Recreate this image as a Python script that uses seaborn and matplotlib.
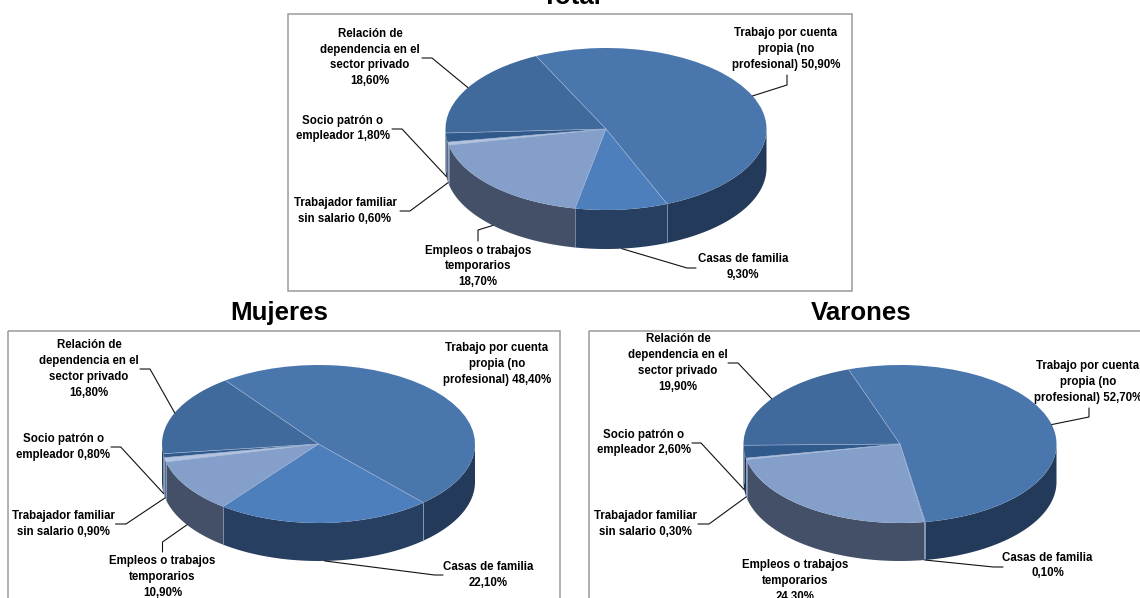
import numpy as np
import matplotlib
matplotlib.use("Agg")
import matplotlib.pyplot as plt
from matplotlib.patches import Rectangle
import seaborn as sns

# Categories in clockwise order, as they appear around each pie
categories = [
    "Trabajo por cuenta\npropia (no\nprofesional)",
    "Casas de familia\n",
    "Empleos o trabajos\ntemporarios\n",
    "Trabajador familiar\nsin salario",
    "Socio patrón o\nempleador",
    "Relación de\ndependencia en el\nsector privado\n",
]
total_values = [50.9, 9.3, 18.7, 0.6, 1.8, 18.6]
mujeres_values = [48.4, 22.1, 10.9, 0.9, 0.8, 16.8]
varones_values = [52.7, 0.1, 24.3, 0.3, 2.6, 19.9]

sns.set_theme(style="white")
plt.rcParams["font.family"] = ["Liberation Sans", "DejaVu Sans"]

top_palette = sns.color_palette(
    ["#4A76AE", "#4D7FBC", "#859FCB", "#B4C4E0", "#315A8C", "#40699C"])
side_palette = sns.color_palette(
    ["#233A5A", "#273F61", "#435067", "#5F7089", "#1D3350", "#263F60"])

W, H = 1140, 598
fig = plt.figure(figsize=(W / 100, H / 100), dpi=100, facecolor="white")

# Overlay in pixel units for frames, leaders and captions
overlay = fig.add_axes([0, 0, 1, 1], zorder=5)
overlay.set_xlim(0, W)
overlay.set_ylim(H, 0)
overlay.axis("off")
overlay.patch.set_alpha(0)

LABEL_SIZE = 8.3
LINE_COLOR = "#111111"
EDGE_COLOR = "#9DB2D2"


def draw_pie(values, start, cx, cy, rx, ry, depth, leaders, label_xy):
    """Draw one extruded pie; `start` is the clockwise angle of the first slice from 12 o'clock."""
    pad = 1.02
    d = depth / ry
    ax = fig.add_axes([(cx - rx * pad) / W,
                       1 - (cy + ry * pad + depth) / H,
                       2 * rx * pad / W,
                       (2 * ry * pad + depth) / H])
    ax.pie(values, startangle=90 - start, counterclock=False, radius=1,
           colors=top_palette,
           wedgeprops=dict(edgecolor="none", linewidth=0, zorder=3))
    ax.set_aspect("auto")
    ax.set_xlim(-pad, pad)
    ax.set_ylim(-pad - d, pad)
    ax.patch.set_alpha(0)

    shares = np.asarray(values, dtype=float)
    shares = shares / shares.sum()
    edges = start + 360 * np.concatenate([[0], np.cumsum(shares)])

    # Side wall: only the part of each slice facing the viewer
    for i, colour in enumerate(side_palette):
        for shift in (0, 360):
            a0 = np.radians(max(edges[i], 90 - shift))
            a1 = np.radians(min(edges[i + 1], 270 - shift))
            if a1 <= a0:
                continue
            t = np.linspace(a0, a1, 80)
            x, y = np.sin(t), np.cos(t)
            ax.fill(np.r_[x, x[::-1]], np.r_[y, y[::-1] - d],
                    color=colour, lw=0, zorder=1)

    # Thin light seams between slices, on the face and down the wall
    for e in edges[:-1]:
        a = np.radians(e)
        ax.plot([0, np.sin(a)], [0, np.cos(a)], color=EDGE_COLOR, lw=0.45, zorder=4)
        if np.cos(a) < 0:
            ax.plot([np.sin(a)] * 2, [np.cos(a), np.cos(a) - d],
                    color=EDGE_COLOR, lw=0.45, zorder=2)

    # Leaders start on the rim at each slice's middle angle
    mids = np.radians((edges[:-1] + edges[1:]) / 2)
    for i, name in enumerate(categories):
        sx = cx + rx * np.sin(mids[i])
        sy = cy - ry * np.cos(mids[i])
        if np.cos(mids[i]) < 0:
            sy += depth
        if leaders[i] is not None:
            (ex, ey), (fx, fy) = leaders[i]
            overlay.plot([sx, ex, fx], [sy, ey, fy], color=LINE_COLOR, lw=0.8,
                         solid_joinstyle="miter")
        value_text = f"{values[i]:.2f}".replace(".", ",") + "%"
        if name.endswith("\n"):
            caption = name + value_text
        else:
            caption = name + " " + value_text
        lx, ly = label_xy[i]
        overlay.text(lx, ly, caption, ha="center", va="center", fontsize=LABEL_SIZE,
                     fontweight="bold", color="black", linespacing=1.42,
                     clip_on=False)


def frame(x0, y0, x1, y1):
    overlay.add_patch(Rectangle((x0, y0), x1 - x0, y1 - y0, fill=False,
                                edgecolor="#9A9A9A", lw=1.1, clip_on=True))


frame(288, 13.5, 852, 291)
frame(7.5, 331, 560, 640)
frame(589, 331, 1190, 640)

draw_pie(total_values, -25.8, 606, 129, 160.5, 81, 39,
         [((787, 85), (787, 75)), ((687, 268), (696, 268)), ((478, 230), (478, 241)),
          ((410, 211), (400, 211)), ((402, 129), (392, 129)), ((432, 58), (422, 58))],
         [(786, 49), (743, 267), (478, 266.5), (345, 211), (343, 128.5), (370, 57.5)])

draw_pie(mujeres_values, -36.5, 318.5, 444, 156.5, 79, 38,
         [None, ((434.5, 575), (443, 575)), ((162.5, 542), (162.5, 552)),
          ((126, 524), (115.5, 524)), ((120.7, 447), (111, 447)), ((150, 369), (140, 369))],
         [(497, 364), (488, 575), (162.5, 577), (63, 524), (63.5, 447), (89, 369)])

draw_pie(varones_values, -19.2, 900, 444, 156.5, 79, 38,
         [((1089, 417), (1089, 408)), ((993.5, 567), (1003, 567)), None,
          ((709, 524), (698, 524)), ((701, 443), (692, 443)), ((738, 363), (728, 363))],
         [(1088, 382), (1047.5, 565.5), (795.5, 581), (645.5, 524), (644, 442.5), (678, 363)])

for title, tx, ty in [("Total", 572, 4), ("Mujeres", 279, 320), ("Varones", 861, 320)]:
    overlay.text(tx, ty, title, ha="center", va="baseline", fontsize=18.6,
                 fontweight="bold", color="black")

fig.savefig("out.png", dpi=100)
